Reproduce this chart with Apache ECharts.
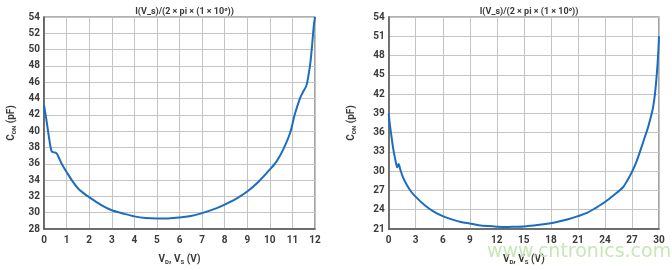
<!DOCTYPE html>
<html>
<head>
<meta charset="utf-8">
<style>
  html, body { margin: 0; padding: 0; background: #fff; }
  #chart { width: 672px; height: 270px; }
</style>
<script src="https://cdn.jsdelivr.net/npm/echarts@6/dist/echarts.min.js"></script>
</head>
<body>
<div id="chart"></div>
<script>
  // 0 V 到 12 V 供电
  const leftVolts = [0, 0.1, 0.2, 0.3, 0.35, 0.45, 0.55, 0.65, 0.8, 1.0, 1.25, 1.5, 1.75, 2, 2.5, 3, 3.5, 4, 4.5, 5, 5.5, 6, 6.5, 7, 7.5, 8, 8.5, 9, 9.5, 10, 10.3, 10.6, 10.9, 11.1, 11.33, 11.47, 11.62, 11.72, 11.8, 11.87, 11.95, 12]
  const leftCon = [43.2, 41.5, 39.6, 37.9, 37.5, 37.4, 37.3, 36.8, 35.9, 35.0, 33.9, 33.0, 32.4, 31.9, 31.0, 30.3, 29.9, 29.55, 29.35, 29.3, 29.3, 29.4, 29.6, 29.95, 30.4, 31.0, 31.7, 32.6, 33.8, 35.3, 36.3, 37.8, 39.8, 42.0, 44.0, 44.8, 45.6, 47.0, 48.5, 50.5, 53.0, 54.0]

  // 0 V 到 30 V 供电
  const rightVolts = [0, 0.15, 0.3, 0.5, 0.7, 0.85, 0.95, 1.1, 1.3, 1.6, 2, 2.5, 3, 4, 5, 6, 7, 8, 9, 10, 11, 12, 13, 14, 15, 16, 17, 18, 19, 20, 21, 22, 23, 24, 25, 26, 26.5, 27, 27.5, 28, 28.4, 28.8, 29.2, 29.35, 29.55, 29.75, 29.9, 30]
  const rightCon = [39, 37, 35.5, 33.5, 32, 31.0, 30.6, 31.1, 30.2, 29.0, 27.9, 26.8, 26.0, 24.7, 23.7, 23.0, 22.5, 22.1, 21.85, 21.6, 21.45, 21.35, 21.3, 21.35, 21.4, 21.55, 21.7, 21.9, 22.2, 22.55, 23.0, 23.5, 24.3, 25.2, 26.3, 27.5, 28.6, 29.9, 31.5, 33.5, 35.2, 36.9, 39.0, 40.0, 42.0, 45.0, 48.0, 51.0]

  const titleText = 'I(V_s)/(2 × pi × (1 × 10⁶))'

  const font = 'Roboto, "DejaVu Sans", sans-serif'
  const textColor = '#3a3a3a'
  const lineColor = '#1a6dc0'

  const chart = echarts.init(document.getElementById('chart'))

  function pairs(xs, ys) {
    return xs.map((x, i) => [x, ys[i]])
  }

  function xAxis(gridIndex, max, interval) {
    return {
      type: 'value',
      gridIndex: gridIndex,
      min: 0,
      max: max,
      interval: interval,
      name: '{b|V}{s|D}{b|, V}{s|S}{b| (V)}',
      nameLocation: 'middle',
      nameGap: 24,
      nameTextStyle: {
        rich: {
          b: { fontFamily: font, fontSize: 10, fontWeight: 'bold', color: textColor },
          s: { fontFamily: font, fontSize: 6, fontWeight: 'bold', color: textColor, padding: [6, 0, 0, 0] }
        }
      },
      axisLine: { lineStyle: { color: '#555', width: 1.5 } },
      axisTick: { show: false },
      axisLabel: { color: textColor, fontFamily: font, fontSize: 10, fontWeight: 'bold', margin: 6 },
      splitLine: { lineStyle: { color: '#c4c4c4', width: 1 } }
    }
  }

  function yAxis(gridIndex, min, max, interval, gap) {
    return {
      type: 'value',
      gridIndex: gridIndex,
      min: min,
      max: max,
      interval: interval,
      name: '{b|C}{s|ON}{b| (pF)}',
      nameLocation: 'middle',
      nameRotate: 90,
      nameGap: gap,
      nameTextStyle: {
        rich: {
          b: { fontFamily: font, fontSize: 10, fontWeight: 'bold', color: textColor },
          s: { fontFamily: font, fontSize: 6, fontWeight: 'bold', color: textColor, padding: [6, 0, 0, 0] }
        }
      },
      axisLine: { show: true, lineStyle: { color: '#555', width: 1.5 } },
      axisTick: { show: false },
      axisLabel: { color: textColor, fontFamily: font, fontSize: 10, fontWeight: 'bold', margin: 4 },
      splitLine: { lineStyle: { color: '#c4c4c4', width: 1 } }
    }
  }

  const titleStyle = { fontFamily: '"Liberation Sans Narrow", Roboto, sans-serif', fontSize: 9, fontWeight: 'bold', color: textColor }

  chart.setOption({
    animation: false,
    title: [
      { text: titleText, left: 179.5, top: 2, textAlign: 'center', textStyle: titleStyle },
      { text: titleText, left: 524, top: 2, textAlign: 'center', textStyle: titleStyle }
    ],
    grid: [
      { left: 44, top: 17, width: 271, bottom: 36.3, show: true, borderColor: '#666', borderWidth: 1.2, backgroundColor: '#fff' },
      { left: 388.7, top: 17, width: 270.3, bottom: 36.3, show: true, borderColor: '#666', borderWidth: 1.2, backgroundColor: '#fff' }
    ],
    xAxis: [xAxis(0, 12, 1), xAxis(1, 30, 3)],
    yAxis: [yAxis(0, 28, 54, 2, 27), yAxis(1, 21, 54, 3, 31)],
    series: [
      {
        type: 'line',
        xAxisIndex: 0,
        yAxisIndex: 0,
        data: pairs(leftVolts, leftCon),
        showSymbol: false,
        smooth: 0.3,
        lineStyle: { color: lineColor, width: 2 }
      },
      {
        type: 'line',
        xAxisIndex: 1,
        yAxisIndex: 1,
        data: pairs(rightVolts, rightCon),
        showSymbol: false,
        smooth: 0.3,
        lineStyle: { color: lineColor, width: 2 }
      }
    ],
    graphic: [
      {
        type: 'text',
        left: 487,
        top: 243,
        z: 100,
        style: { text: 'www.cntronics.com', fontFamily: '"DejaVu Sans", sans-serif', fontSize: 19, fill: '#c9e6b9' }
      }
    ]
  })
</script>
</body>
</html>
